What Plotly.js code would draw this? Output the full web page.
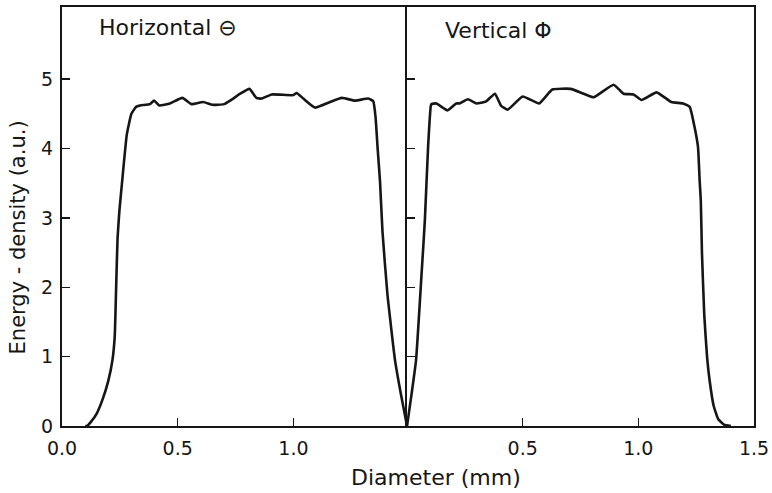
<!DOCTYPE html>
<html>
<head>
<meta charset="utf-8">
<script src="https://cdn.plot.ly/plotly-3.0.1.min.js"></script>
<style>
  html, body { margin: 0; padding: 0; background: #fff; }
  #chart { width: 772px; height: 493px; }
</style>
</head>
<body>
<div id="chart"></div>
<script>
// Horizontal beam profile: diameter (mm) vs energy density (a.u.)
const horizX = [0.10, 0.108, 0.125, 0.15, 0.175, 0.20, 0.218, 0.228, 0.234, 0.24, 0.248, 0.262, 0.28, 0.30, 0.32,
  0.337, 0.38, 0.398, 0.42, 0.467, 0.52, 0.56, 0.61, 0.65, 0.70, 0.74, 0.77, 0.81, 0.84, 0.863, 0.906, 1.0, 1.014,
  1.043, 1.093, 1.158, 1.209, 1.266, 1.324, 1.345, 1.355, 1.364, 1.374, 1.385, 1.406, 1.439, 1.464, 1.491];
const horizY = [0.0, 0.0, 0.06, 0.18, 0.38, 0.65, 0.95, 1.3, 2.0, 2.7, 3.1, 3.6, 4.2, 4.5, 4.6,
  4.62, 4.64, 4.69, 4.62, 4.65, 4.73, 4.64, 4.67, 4.63, 4.64, 4.72, 4.79, 4.86, 4.73, 4.72, 4.78, 4.77, 4.80,
  4.72, 4.59, 4.67, 4.73, 4.69, 4.72, 4.68, 4.45, 4.0, 3.54, 2.8, 1.91, 0.95, 0.47, 0.0];

// Vertical beam profile
const vertX = [0.0, 0.02, 0.039, 0.063, 0.077, 0.091, 0.103, 0.106, 0.127, 0.175, 0.213, 0.227, 0.263, 0.299, 0.342,
  0.38, 0.406, 0.435, 0.5, 0.571, 0.628, 0.707, 0.764, 0.807, 0.893, 0.936, 0.979, 1.014, 1.079, 1.143, 1.193,
  1.222, 1.243, 1.258, 1.265, 1.27, 1.275, 1.285, 1.297, 1.308, 1.325, 1.345, 1.37, 1.40];
const vertY = [0.0, 0.47, 0.95, 2.2, 2.96, 4.02, 4.62, 4.64, 4.65, 4.55, 4.65, 4.65, 4.71, 4.65, 4.68,
  4.79, 4.62, 4.56, 4.75, 4.65, 4.85, 4.86, 4.79, 4.74, 4.92, 4.79, 4.78, 4.70, 4.81, 4.67, 4.65,
  4.60, 4.31, 4.02, 3.54, 3.25, 2.5, 1.6, 1.0, 0.66, 0.3, 0.1, 0.02, 0.0];

const yTicks = [0, 1, 2, 3, 4, 5];
const leftXTicks = [0, 0.5, 1.0];
const leftXText = ['0.0', '0.5', '1.0'];
const rightXTicks = [0.5, 1.0, 1.5];
const rightXText = ['0.5', '1.0', '1.5'];

const ink = '#161616';
const font = 'DejaVu Sans, sans-serif';

const curveLine = { color: ink, width: 2.6, shape: 'spline', smoothing: 0.4 };
const traces = [
  { x: horizX, y: horizY, xaxis: 'x', yaxis: 'y', mode: 'lines', line: curveLine, hoverinfo: 'skip' },
  { x: vertX, y: vertY, xaxis: 'x2', yaxis: 'y2', mode: 'lines', line: curveLine, hoverinfo: 'skip' }
];

const axisCommon = {
  showgrid: false, zeroline: false, showline: true, linecolor: ink, linewidth: 2,
  mirror: true, ticks: 'inside', ticklen: 8, tickwidth: 1.5, tickcolor: ink,
  tickfont: { family: font, size: 19, color: ink }
};

const layout = {
  width: 772, height: 493,
  margin: { l: 62, r: 18, t: 7, b: 67 },
  paper_bgcolor: '#fff', plot_bgcolor: '#fff',
  showlegend: false,
  xaxis: Object.assign({}, axisCommon, {
    domain: [0, 0.4986], range: [0, 1.491], ticklabelstandoff: 4,
    tickmode: 'array', tickvals: leftXTicks, ticktext: leftXText, anchor: 'y'
  }),
  xaxis2: Object.assign({}, axisCommon, {
    domain: [0.4986, 1], range: [0, 1.5], ticklabelstandoff: 4,
    tickmode: 'array', tickvals: rightXTicks, ticktext: rightXText, anchor: 'y2'
  }),
  // left panel: no mirrored right edge, the right panel's axis line forms the divider
  yaxis: Object.assign({}, axisCommon, {
    domain: [0, 1], range: [0, 6.04], anchor: 'x', mirror: false,
    tickmode: 'array', tickvals: yTicks, ticklabelstandoff: 3
  }),
  yaxis2: Object.assign({}, axisCommon, {
    domain: [0, 1], range: [0, 6.04], anchor: 'x2',
    tickmode: 'array', tickvals: yTicks, showticklabels: false
  }),
  annotations: [
    { text: 'Horizontal ⊖', xref: 'paper', yref: 'paper', x: 0.05, y: 0.95,
      xanchor: 'left', yanchor: 'middle', showarrow: false,
      font: { family: font, size: 22, color: ink } },
    { text: 'Vertical Φ', xref: 'paper', yref: 'paper', x: 0.5506, y: 0.945,
      xanchor: 'left', yanchor: 'middle', showarrow: false,
      font: { family: font, size: 22, color: ink } },
    { text: 'Diameter (mm)', xref: 'paper', yref: 'paper', x: 0.54, y: -0.122,
      xanchor: 'center', yanchor: 'middle', showarrow: false,
      font: { family: font, size: 22, color: ink } },
    { text: 'Energy - density (a.u.)', xref: 'paper', yref: 'paper', x: -0.0636, y: 0.45,
      xanchor: 'center', yanchor: 'middle', textangle: -90, showarrow: false,
      font: { family: font, size: 21, color: ink } }
  ]
};

Plotly.newPlot('chart', traces, layout, { staticPlot: true, displayModeBar: false });
</script>
</body>
</html>
